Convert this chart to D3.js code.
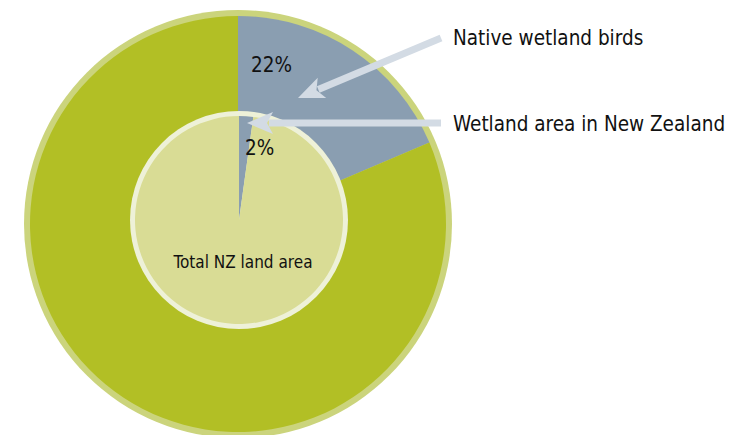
<!DOCTYPE html>
<html>
<head>
<meta charset="utf-8">
<script src="https://cdn.jsdelivr.net/npm/d3@7"></script>
<style>
  body { margin: 0; background: #fff; }
  svg { display: block; }
  .lbl { font-family: "Liberation Sans Narrow", "DejaVu Sans Condensed", sans-serif; fill: #111; }
</style>
</head>
<body>
<div id="chart"></div>
<script>
// outer ring: share of native birds that live in wetlands
var birdCategories = ['Native wetland birds', 'Other native birds'];
var birdShares = [18.6, 81.4];
// inner disc: share of land area that is wetland
var landCategories = ['Wetland area in New Zealand', 'Other land'];
var landShares = [2.2, 97.8];
var valueLabels = ['22%', '2%'];
var centreLabel = 'Total NZ land area';

var width = 731, height = 435;

var svg = d3.select('#chart')
    .append('svg')
    .attr('width', width)
    .attr('height', height);

var pie = d3.pie().sort(null).startAngle(0).endAngle(2 * Math.PI);

// outer ring
var outer = svg.append('g').attr('transform', 'translate(238, 224)');

outer.append('circle')
    .attr('r', 214)
    .attr('fill', '#cbd47c');

var outerArc = d3.arc().innerRadius(0).outerRadius(208);
var outerColour = d3.scaleOrdinal().domain(birdCategories).range(['#8a9eb1', '#b2bf25']);

outer.selectAll('path')
    .data(pie(birdShares))
    .enter()
    .append('path')
    .attr('d', outerArc)
    .attr('fill', function(d, i) { return outerColour(birdCategories[i]); });

// inner disc
var inner = svg.append('g').attr('transform', 'translate(239, 220)');

inner.append('circle')
    .attr('r', 109)
    .attr('fill', '#eef1d8');

var innerArc = d3.arc().innerRadius(0).outerRadius(104);
var innerColour = d3.scaleOrdinal().domain(landCategories).range(['#8a9eb1', '#d9dc95']);

inner.selectAll('path')
    .data(pie(landShares))
    .enter()
    .append('path')
    .attr('d', innerArc)
    .attr('fill', function(d, i) { return innerColour(landCategories[i]); });

inner.append('text')
    .attr('class', 'lbl')
    .attr('x', 4)
    .attr('y', 48)
    .attr('text-anchor', 'middle')
    .style('font-size', '17px')
    .text(centreLabel);

// percentage labels
svg.append('text')
    .attr('class', 'lbl')
    .attr('x', 251)
    .attr('y', 72)
    .style('font-size', '20.5px')
    .text(valueLabels[0]);

svg.append('text')
    .attr('class', 'lbl')
    .attr('x', 245)
    .attr('y', 155)
    .style('font-size', '20.5px')
    .text(valueLabels[1]);

// arrows pointing at the slices
var arrows = [
    { from: [441, 38], to: [298, 98], text: birdCategories[0], tx: 453, ty: 45 },
    { from: [441, 123], to: [247, 123], text: landCategories[0], tx: 453, ty: 131 }
];

var arrowColour = '#d3dbe4';
var headLen = 26, headHalf = 11;

arrows.forEach(function(a) {
    var dx = a.to[0] - a.from[0];
    var dy = a.to[1] - a.from[1];
    var len = Math.sqrt(dx * dx + dy * dy);
    var ux = dx / len, uy = dy / len;
    var bx = a.to[0] - ux * headLen, by = a.to[1] - uy * headLen;

    svg.append('line')
        .attr('x1', a.from[0])
        .attr('y1', a.from[1])
        .attr('x2', bx + ux * 4)
        .attr('y2', by + uy * 4)
        .attr('stroke', arrowColour)
        .attr('stroke-width', 7);

    svg.append('polygon')
        .attr('points', [
            a.to,
            [bx - uy * headHalf, by + ux * headHalf],
            [bx + ux * 6, by + uy * 6],
            [bx + uy * headHalf, by - ux * headHalf]
        ].map(function(p) { return p.join(','); }).join(' '))
        .attr('fill', arrowColour);

    svg.append('text')
        .attr('class', 'lbl')
        .attr('x', a.tx)
        .attr('y', a.ty)
        .style('font-size', '20.5px')
        .text(a.text);
});
</script>
</body>
</html>
